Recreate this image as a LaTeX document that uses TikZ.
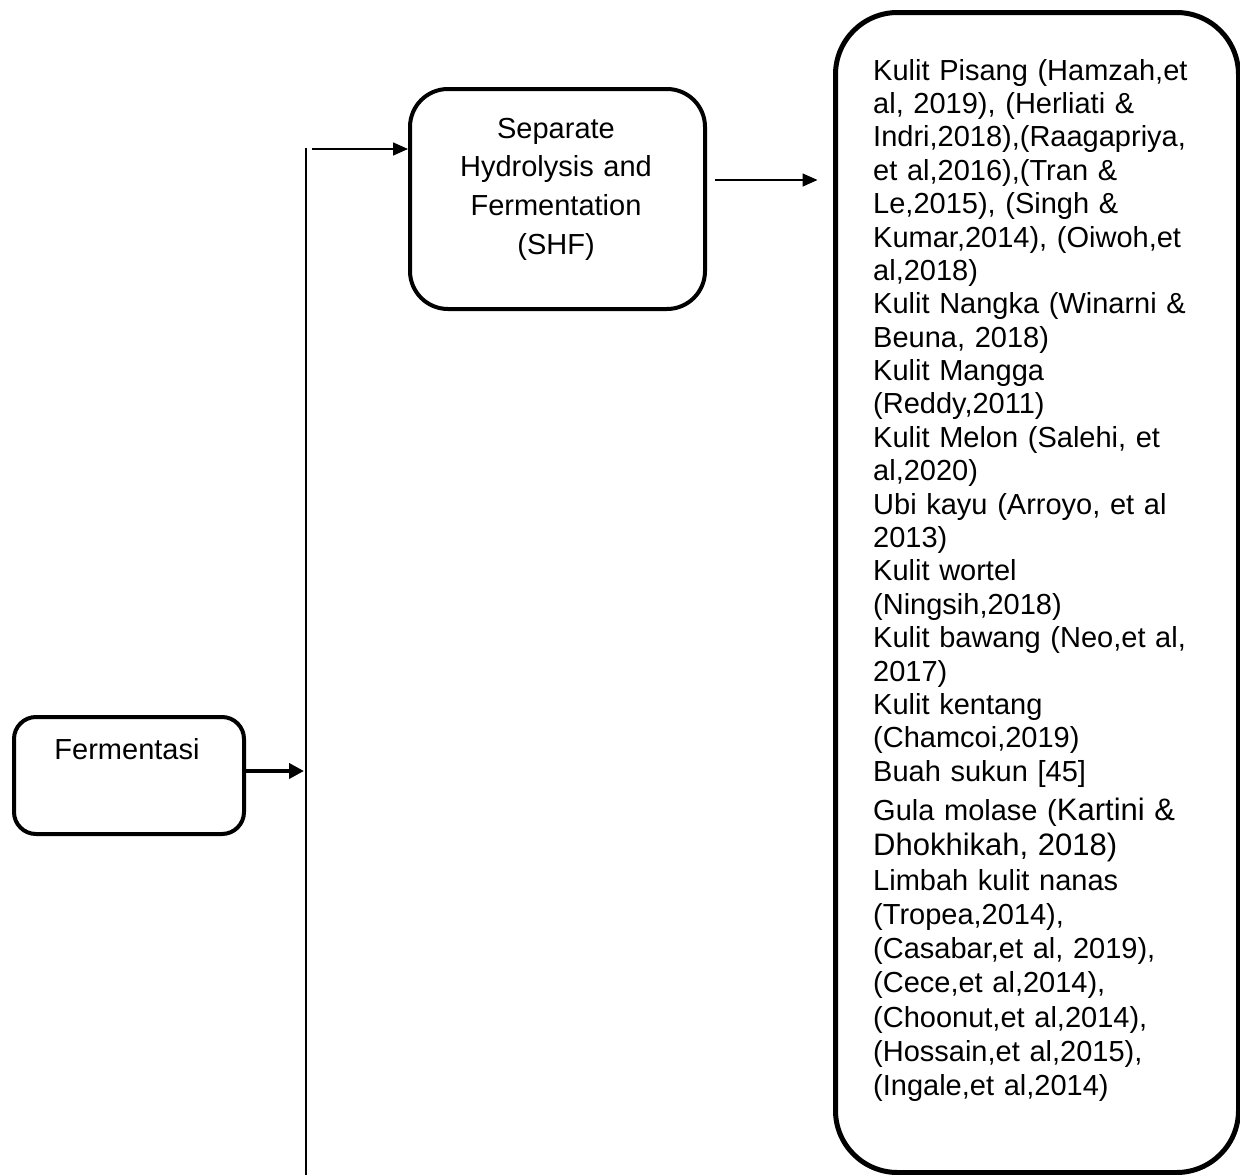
\documentclass[tikz,border=0pt]{standalone}
\usepackage{fontspec}
\setmainfont{Liberation Sans}
\usetikzlibrary{arrows.meta}
\begin{document}
\begin{tikzpicture}[x=1pt,y=-1pt,
  boxline/.style={draw, inner sep=0pt, anchor=north west},
  txt/.style={inner sep=0pt, font=\fontsize{29}{33.4}\selectfont},
  thinarrow/.style={line width=1.5pt, -{Triangle[length=15pt,width=13pt]}},
  thickarrow/.style={line width=4pt, -{Triangle[length=15pt,width=15pt]}},
  barline/.style={line width=2pt}]
\useasboundingbox (0,0) rectangle (1240,1175);

% boxes
\node[boxline, line width=4pt, rounded corners=22pt, minimum width=230pt, minimum height=117pt] (fer) at (12,715) {};
\node[txt, anchor=base] (fertext) at (127,759) {Fermentasi};

\node[boxline, line width=4pt, rounded corners=38pt, minimum width=295pt, minimum height=220pt] (shf) at (408,87) {};
\node[txt, anchor=base, text width=295pt, align=center, font=\fontsize{29}{38.7}\selectfont] (shftext) at (556,138)
  {Separate\\Hydrolysis and\\Fermentation\\(SHF)};

\node[boxline, line width=5pt, rounded corners=62pt, minimum width=403pt, minimum height=1160pt] (big) at (833,10) {};
\node[txt, anchor=base west, text width=400pt, align=left] (bigtext) at (873,80)
  {Kulit Pisang (Hamzah,et\\
   al, 2019), (Herliati \&\\
   Indri,2018),(Raagapriya,\\
   et al,2016),(Tran \&\\
   Le,2015), (Singh \&\\
   Kumar,2014), (Oiwoh,et\\
   al,2018)\\
   Kulit Nangka (Winarni \&\\
   Beuna, 2018)\\
   Kulit Mangga\\
   (Reddy,2011)\\
   Kulit Melon (Salehi, et\\
   al,2020)\\
   Ubi kayu (Arroyo, et al\\
   2013)\\
   Kulit wortel\\
   (Ningsih,2018)\\
   Kulit bawang (Neo,et al,\\
   2017)\\
   Kulit kentang\\
   (Chamcoi,2019)\\
   Buah sukun [45]\\[5.6pt]
   Gula molase ({\fontsize{31}{33.4}\selectfont Kartini \&}\\[1.6pt]
   {\fontsize{31}{33.4}\selectfont Dhokhikah, 2018)}\\[1.6pt]
   Limbah kulit nanas\\[0.8pt]
   (Tropea,2014),\\[0.8pt]
   (Casabar,et al, 2019),\\[0.8pt]
   (Cece,et al,2014),\\[0.8pt]
   (Choonut,et al,2014),\\[0.8pt]
   (Hossain,et al,2015),\\[0.8pt]
   (Ingale,et al,2014)};

% vertical bar
\coordinate (bartop) at (306,148);
\coordinate (barbot) at (306,1175);
\draw[barline] (bartop) -- (barbot);

% connectors
\draw[thickarrow] ([yshift=4.5pt]fer.east) -- ([xshift=-2pt,yshift=4.5pt]fer.east -| bartop);
\draw[thinarrow] ([xshift=6pt,yshift=-1pt]bartop) -- ([yshift=-1pt]shf.west |- bartop);
\draw[thinarrow, shorten >=15.5pt] ([xshift=8pt,yshift=19pt]shf.east) -- ([yshift=19pt]shf.east -| big.west);
\end{tikzpicture}
\end{document}
